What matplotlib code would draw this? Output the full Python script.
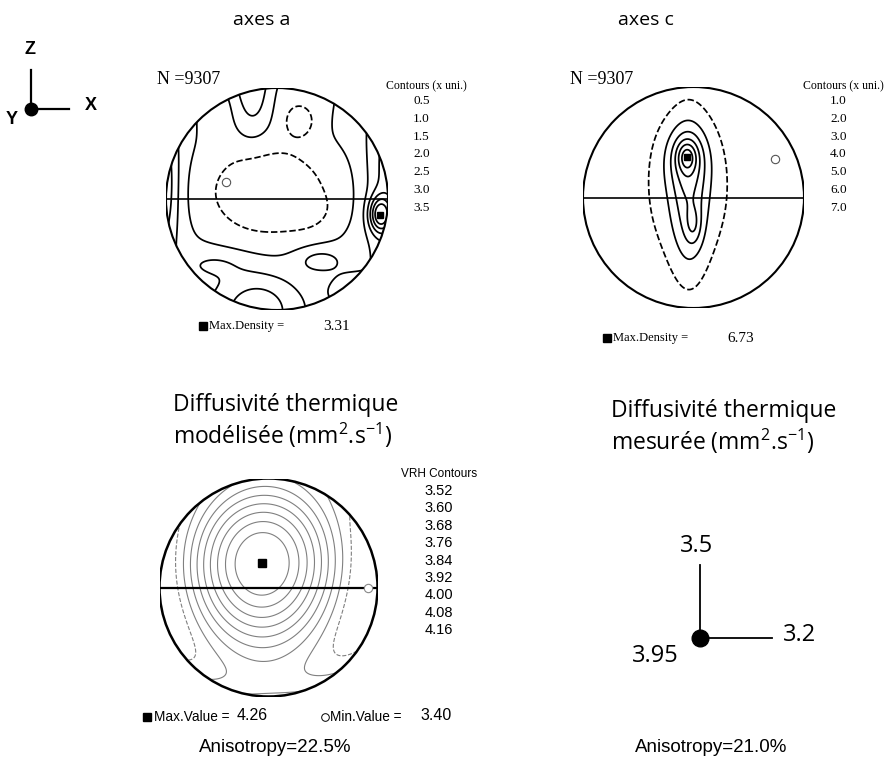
import numpy as np
import matplotlib
matplotlib.use("Agg")
import matplotlib.pyplot as plt
from matplotlib.patches import Circle

# ---------------- data ----------------
n_grains = 9307
levels_a = [0.5, 1.0, 1.5, 2.0, 2.5, 3.0, 3.5]
levels_c = [1.0, 2.0, 3.0, 4.0, 5.0, 6.0, 7.0]
levels_vrh = [3.52, 3.60, 3.68, 3.76, 3.84, 3.92, 4.00, 4.08, 4.16]
max_density_a = 3.31
max_density_c = 6.73
max_value_vrh = 4.26
min_value_vrh = 3.40
anisotropy_model = 22.5
anisotropy_meas = 21.0
measured_z = 3.5
measured_x = 3.2
measured_y = 3.95

# density kernels for the "axes a" pole figure (unit-disk coords)
a_base = 1.30
a_kx = [-0.08, 0.15, -0.55, 0.21, -0.22, 0.93, 1.00, -1.06, 0.30, -0.55, -0.18, 0.38, 0.70]
a_ky = [0.06, 0.97, 0.82, 0.70, 1.05, -0.14, 0.20, 0.12, -0.12, -0.58, -1.00, -0.55, -0.82]
a_ksx = [0.50, 0.35, 0.15, 0.12, 0.12, 0.07, 0.14, 0.12, 0.15, 0.20, 0.24, 0.15, 0.15]
a_ksy = [0.38, 0.20, 0.20, 0.12, 0.30, 0.11, 0.60, 0.45, 0.12, 0.09, 0.22, 0.08, 0.10]
a_kamp = [-1.25, -0.45, -0.40, -0.60, 1.00, 2.20, 1.00, 1.50, -0.25, 0.40, 1.15, 0.60, 0.80]
a_max_xy = (0.93, -0.14)
a_min_xy = (-0.46, 0.15)

# density kernels for the "axes c" pole figure
c_base = 0.30
c_kx = [-0.06, -0.06, -0.04, 0.00, -0.05]
c_ky = [0.37, 0.37, -0.05, -0.25, 0.08]
c_ksx = [0.06, 0.13, 0.11, 0.05, 0.28]
c_ksy = [0.09, 0.20, 0.45, 0.12, 0.50]
c_kamp = [2.00, 2.00, 1.90, 1.20, 1.50]
c_max_xy = (-0.06, 0.37)
c_min_xy = (0.74, 0.35)

# VRH thermal diffusivity tensor (principal values and orientation)
vrh_principal = [4.26, 3.64, 3.40]   # max (near Z), intermediate (Y), min (X)
vrh_tilt_deg = 18.0                  # tilt of max axis toward +Y
vrh_roll_deg = 5.0                   # tilt of max axis toward -X

# ---------------- figure ----------------
W, H = 889, 760
fig = plt.figure(figsize=(W / 100, H / 100), dpi=100)
ov = fig.add_axes([0, 0, 1, 1])
ov.set_xlim(0, W)
ov.set_ylim(H, 0)
ov.axis('off')

SANS = ['Open Sans', 'DejaVu Sans']
SERIF = ['Liberation Serif', 'DejaVu Serif']
ARIAL = ['Liberation Sans', 'DejaVu Sans']
plt.rcParams['mathtext.fontset'] = 'custom'
plt.rcParams['mathtext.rm'] = 'Open Sans'
plt.rcParams['mathtext.it'] = 'Open Sans:italic'
plt.rcParams['mathtext.default'] = 'regular'


def net_axes(cx, cy, r):
    ax = fig.add_axes([(cx - r) / W, 1 - (cy + r) / H, 2 * r / W, 2 * r / H])
    ax.set_xlim(-1, 1)
    ax.set_ylim(-1, 1)
    ax.axis('off')
    return ax


g = np.linspace(-1.06, 1.06, 501)
X, Y = np.meshgrid(g, g)


def kernel_field(base, kx, ky, ksx, ksy, kamp):
    F = np.full_like(X, base)
    for x0, y0, sx, sy, a in zip(kx, ky, ksx, ksy, kamp):
        F += a * np.exp(-((X - x0) ** 2 / (2 * sx ** 2) + (Y - y0) ** 2 / (2 * sy ** 2)))
    return F


def draw_net(ax, F, levels, color, lw, dashed_first=True, outline_lw=1.5, eq_lw=1.2):
    styles = ['--' if (i == 0 and dashed_first) else '-' for i in range(len(levels))]
    cs = ax.contour(X, Y, F, levels=levels, colors=color, linewidths=lw, linestyles=styles)
    clip = Circle((0, 0), 1.0, transform=ax.transData)
    cs.set_clip_path(clip)
    ax.axhline(0, color='k', lw=eq_lw)
    ax.add_patch(Circle((0, 0), 1.0, fill=False, ec='k', lw=outline_lw, zorder=5))
    return cs


# ---- axes a ----
axa = net_axes(277, 199, 111)
Fa = kernel_field(a_base, a_kx, a_ky, a_ksx, a_ksy, a_kamp)
draw_net(axa, Fa, levels_a, 'k', 1.25)
axa.plot(*a_max_xy, marker='s', ms=5, color='k', zorder=6)
axa.plot(*a_min_xy, marker='o', ms=6, mfc='white', mec='#555555', mew=0.8, zorder=6)

# ---- axes c ----
axc = net_axes(693.5, 197.5, 110.5)
Fc = kernel_field(c_base, c_kx, c_ky, c_ksx, c_ksy, c_kamp)
draw_net(axc, Fc, levels_c, 'k', 1.25)
axc.plot(*c_max_xy, marker='s', ms=5, color='k', zorder=6)
axc.plot(*c_min_xy, marker='o', ms=6, mfc='white', mec='#555555', mew=0.8, zorder=6)

# ---- VRH modelled diffusivity ----
t = np.radians(vrh_tilt_deg)
b = np.radians(vrh_roll_deg)
Rx = np.array([[1, 0, 0], [0, np.cos(t), -np.sin(t)], [0, np.sin(t), np.cos(t)]])
Ry = np.array([[np.cos(b), 0, np.sin(b)], [0, 1, 0], [-np.sin(b), 0, np.cos(b)]])
E = Ry @ Rx @ np.array([[0, 0, 1], [0, 1, 0], [-1, 0, 0]])  # columns: max, int, min axes
D = E @ np.diag(vrh_principal) @ E.T
Rr = np.minimum(np.hypot(X, Y), np.sqrt(2) - 1e-6)
theta = 2 * np.arcsin(Rr / np.sqrt(2))
phi = np.arctan2(Y, X)
n = np.stack([np.sin(theta) * np.cos(phi), np.sin(theta) * np.sin(phi), -np.cos(theta)])
Fv = np.einsum('iab,ij,jab->ab', n, D, n)
axv = net_axes(268.5, 587.5, 109)
draw_net(axv, Fv, levels_vrh, '#808080', 0.8, outline_lw=1.8, eq_lw=1.6)
inside = np.hypot(X, Y) <= 1.0
Fm = np.where(inside, Fv, np.nan)
imax = np.nanargmax(Fm)
imin = np.nanargmin(Fm)
axv.plot(X.flat[imax], Y.flat[imax], marker='s', ms=6, color='k', zorder=6)
axv.plot(X.flat[imin] * 0.96, Y.flat[imin], marker='o', ms=6, mfc='white', mec='#888888', mew=0.8, zorder=6)

# ---------------- texts ----------------
# reference frame
ov.plot([31, 31], [70, 109], color='k', lw=1.6)
ov.plot([31, 69], [109, 109], color='k', lw=1.6)
ov.plot(31, 109, 'o', color='k', ms=9)
ov.text(30, 50, 'Z', ha='center', va='center', fontsize=13, fontweight='bold', family=ARIAL)
ov.text(91, 106, 'X', ha='center', va='center', fontsize=13, fontweight='bold', family=ARIAL)
ov.text(12, 120, 'Y', ha='center', va='center', fontsize=13, fontweight='bold', family=ARIAL)

ov.text(262, 20, 'axes a', ha='center', va='center', fontsize=14, family=SANS)
ov.text(646, 20, 'axes c', ha='center', va='center', fontsize=14, family=SANS)

ov.text(157, 79, f'N ={n_grains}', ha='left', va='center', fontsize=13, family=SERIF)
ov.text(570, 79, f'N ={n_grains}', ha='left', va='center', fontsize=13, family=SERIF)

for x0, levs in ((386, levels_a), (803, levels_c)):
    ov.text(x0, 86, 'Contours (x uni.)', ha='left', va='center', fontsize=8.5, family=SERIF)
    for i, lv in enumerate(levs):
        ov.text(x0 + 35.5, 101 + 17.8 * i, f'{lv:.1f}', ha='center', va='center',
                fontsize=9.5, family=SERIF)

for sx, yy, val in ((203, 326, max_density_a), (607, 338, max_density_c)):
    ov.plot(sx, yy, 's', color='k', ms=6)
    ov.text(sx + 6, yy, 'Max.Density =', ha='left', va='center', fontsize=9, family=SERIF)
    ov.text(sx + 120, yy, f'{val:.2f}', ha='left', va='center', fontsize=11, family=SERIF)

ov.text(173, 405, 'Diffusivité thermique', ha='left', va='center', fontsize=16.5, family=SANS)
ov.text(173, 435, 'modélisée (mm$^{2}$.s$^{-1}$)', ha='left', va='center', fontsize=16.5, family=SANS)
ov.text(611, 411, 'Diffusivité thermique', ha='left', va='center', fontsize=16.5, family=SANS)
ov.text(611, 441, 'mesurée (mm$^{2}$.s$^{-1}$)', ha='left', va='center', fontsize=16.5, family=SANS)

ov.text(439, 474, 'VRH Contours', ha='center', va='center', fontsize=8.5, family=ARIAL)
for i, lv in enumerate(levels_vrh):
    ov.text(439, 491 + 17.4 * i, f'{lv:.2f}', ha='center', va='center', fontsize=10.5, family=ARIAL)

ov.plot(147, 717, 's', color='k', ms=6)
ov.text(154, 717, 'Max.Value =', ha='left', va='center', fontsize=9.8, family=ARIAL)
ov.text(237, 716, f'{max_value_vrh:.2f}', ha='left', va='center', fontsize=11.5, family=ARIAL)
ov.plot(325, 717, 'o', mfc='white', mec='k', mew=0.7, ms=5.5)
ov.text(330, 717, 'Min.Value =', ha='left', va='center', fontsize=9.8, family=ARIAL)
ov.text(420, 716, f'{min_value_vrh:.2f}', ha='left', va='center', fontsize=11.5, family=ARIAL)

ov.text(275, 747, f'Anisotropy={anisotropy_model:.1f}%', ha='center', va='center', fontsize=13.5, family=ARIAL)
ov.text(711, 747, f'Anisotropy={anisotropy_meas:.1f}%', ha='center', va='center', fontsize=13.5, family=ARIAL)

# measured diffusivity symbol
ov.plot([700, 700], [565, 638], color='k', lw=1.3)
ov.plot([700, 772], [638, 638], color='k', lw=1.3)
ov.plot(700, 638, 'o', color='k', ms=12)
ov.text(697, 546, f'{measured_z:g}', ha='center', va='center', fontsize=17, family=SANS)
ov.text(800, 635, f'{measured_x:g}', ha='center', va='center', fontsize=17, family=SANS)
ov.text(655, 656, f'{measured_y:g}', ha='center', va='center', fontsize=17, family=SANS)

fig.savefig('out.png', dpi=100)
